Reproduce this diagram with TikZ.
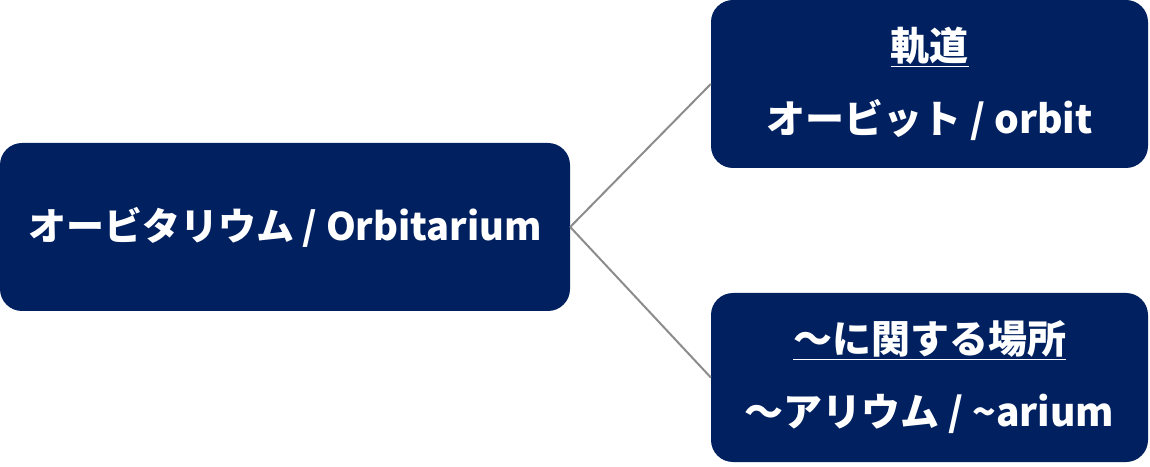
\documentclass[tikz,border=0pt]{standalone}
\usepackage{fontspec}
\newfontfamily\jpfont{Noto Sans CJK JP}
\definecolor{navy}{HTML}{002060}
\definecolor{linkgray}{HTML}{8C8C8C}

\begin{document}
\begin{tikzpicture}[x=1pt,y=1pt,
    box/.style={rectangle,rounded corners=22pt,fill=navy,text=white,
      align=center,inner sep=0pt,
      font=\jpfont\bfseries\fontsize{39}{73}\selectfont},
    link/.style={linkgray,line width=2pt}]
    \useasboundingbox (0,0) rectangle (1150,466);
    \node[box,minimum width=570pt,minimum height=168pt,
      font=\jpfont\bfseries\fontsize{38}{73}\selectfont] (main) at (285,239)
      {オービタリウム / Orbitarium};
    \node[box,minimum width=437pt,minimum height=168pt] (orbit) at (929.5,382)
      {\underline{軌道}\\オービット / orbit};
    \node[box,minimum width=437pt,minimum height=169pt] (arium) at (929.5,88.5)
      {\underline{～に関する場所}\\～アリウム / \textasciitilde arium};
    \draw[link] (main.east) -- (orbit.west);
    \draw[link] (main.east) -- (arium.west);
  \end{tikzpicture}
\end{document}
